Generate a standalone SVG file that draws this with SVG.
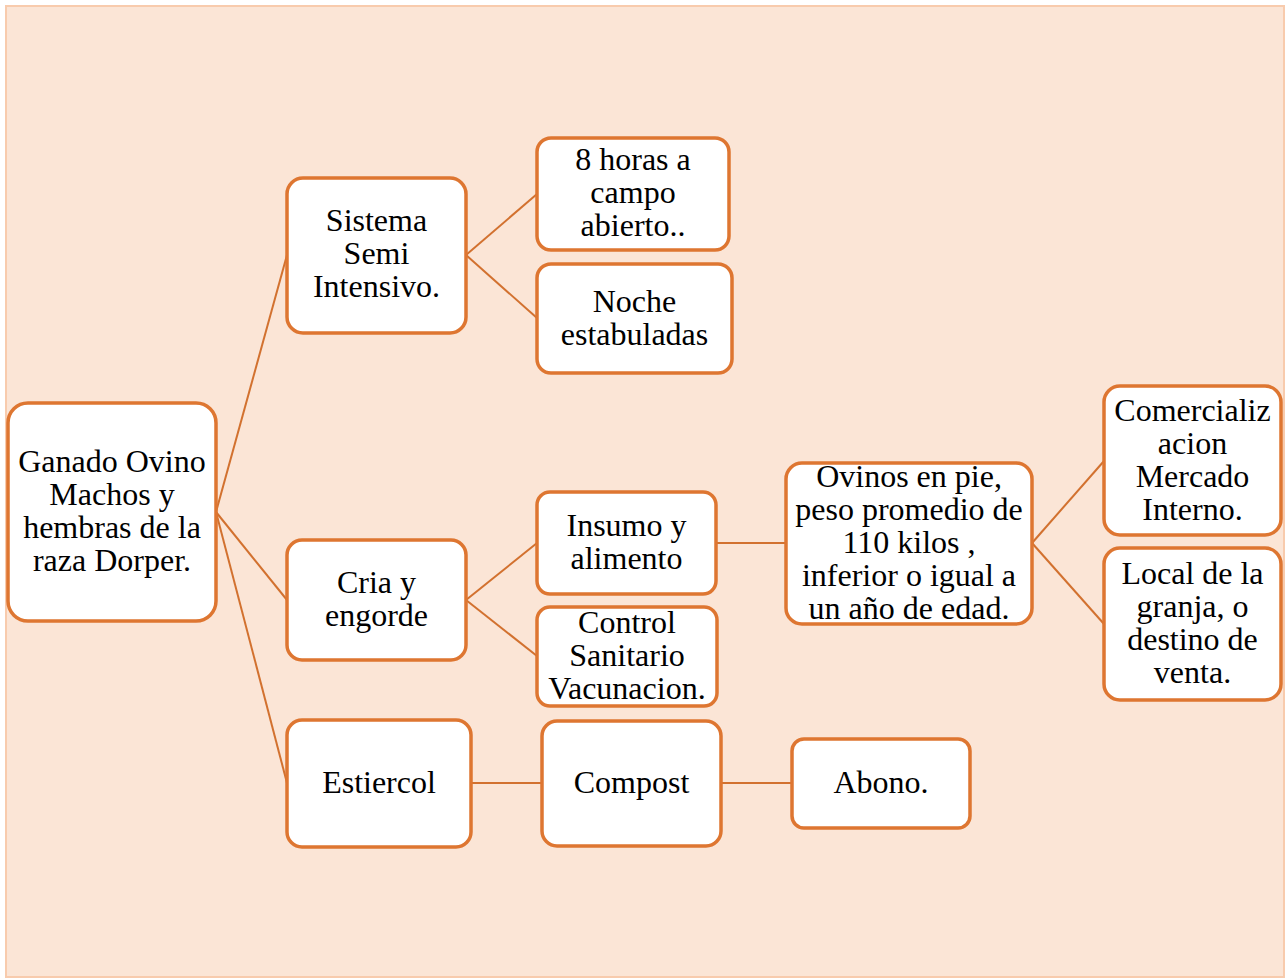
<svg xmlns="http://www.w3.org/2000/svg" width="1287" height="979" viewBox="0 0 1287 979">
<style>
.bg{fill:#FBE5D6;stroke:#F8CBAD;stroke-width:2}
.box{fill:#FFFFFF;stroke:#DE7631;stroke-width:3.5}
.ln{stroke:#D2712F;stroke-width:2;fill:none}
.t{font-family:'Liberation Serif',Tinos,'Times New Roman',Times,serif;font-size:32px;fill:#000;text-anchor:middle}
</style>
<rect class="bg" x="6" y="6" width="1278" height="971"/>
<g id="connectors">
<line class="ln" x1="216" y1="512" x2="287" y2="255"/>
<line class="ln" x1="216" y1="512" x2="287" y2="600"/>
<line class="ln" x1="216" y1="512" x2="287" y2="783"/>
<line class="ln" x1="466" y1="255" x2="537" y2="194"/>
<line class="ln" x1="466" y1="255" x2="537" y2="318"/>
<line class="ln" x1="466" y1="600" x2="537" y2="543"/>
<line class="ln" x1="466" y1="600" x2="537" y2="656"/>
<line class="ln" x1="716" y1="543" x2="786" y2="543"/>
<line class="ln" x1="1032" y1="543" x2="1104" y2="461"/>
<line class="ln" x1="1032" y1="543" x2="1104" y2="624"/>
<line class="ln" x1="471" y1="783" x2="542" y2="783"/>
<line class="ln" x1="721" y1="783" x2="792" y2="783"/>
</g>
<g id="root" class="t" font-family="Liberation Serif">
<rect class="box" x="8" y="403" width="208" height="218" rx="20"/>
<text x="112" y="472">Ganado Ovino</text>
<text x="112" y="505">Machos y</text>
<text x="112" y="538">hembras de la</text>
<text x="112" y="571">raza Dorper.</text>
</g>
<g id="sistema" class="t" font-family="Liberation Serif">
<rect class="box" x="287" y="178" width="179" height="155" rx="16"/>
<text x="376.5" y="231">Sistema</text>
<text x="376.5" y="264">Semi</text>
<text x="376.5" y="297">Intensivo.</text>
</g>
<g id="horas" class="t" font-family="Liberation Serif">
<rect class="box" x="537" y="138" width="192" height="112" rx="14"/>
<text x="633" y="170">8 horas a</text>
<text x="633" y="203">campo</text>
<text x="633" y="236">abierto..</text>
</g>
<g id="noche" class="t" font-family="Liberation Serif">
<rect class="box" x="537" y="264" width="195" height="109" rx="14"/>
<text x="634.5" y="312">Noche</text>
<text x="634.5" y="345">estabuladas</text>
</g>
<g id="cria" class="t" font-family="Liberation Serif">
<rect class="box" x="287" y="540" width="179" height="120" rx="15"/>
<text x="376.5" y="593">Cria y</text>
<text x="376.5" y="626">engorde</text>
</g>
<g id="insumo" class="t" font-family="Liberation Serif">
<rect class="box" x="537" y="492" width="179" height="102" rx="13"/>
<text x="626.5" y="536">Insumo y</text>
<text x="626.5" y="569">alimento</text>
</g>
<g id="control" class="t" font-family="Liberation Serif">
<rect class="box" x="537" y="607" width="180" height="99" rx="13"/>
<text x="627" y="633">Control</text>
<text x="627" y="666">Sanitario</text>
<text x="627" y="699">Vacunacion.</text>
</g>
<g id="ovinos" class="t" font-family="Liberation Serif">
<rect class="box" x="786" y="463" width="246" height="161" rx="16"/>
<text x="909" y="487">Ovinos en pie,</text>
<text x="909" y="520">peso promedio de</text>
<text x="909" y="553">110 kilos ,</text>
<text x="909" y="586">inferior o igual a</text>
<text x="909" y="619">un año de edad.</text>
</g>
<g id="comercializacion" class="t" font-family="Liberation Serif">
<rect class="box" x="1104" y="386" width="177" height="149" rx="16"/>
<text x="1192.5" y="421">Comercializ</text>
<text x="1192.5" y="454">acion</text>
<text x="1192.5" y="487">Mercado</text>
<text x="1192.5" y="520">Interno.</text>
</g>
<g id="local" class="t" font-family="Liberation Serif">
<rect class="box" x="1104" y="548" width="177" height="152" rx="16"/>
<text x="1192.5" y="584">Local de la</text>
<text x="1192.5" y="617">granja, o</text>
<text x="1192.5" y="650">destino de</text>
<text x="1192.5" y="683">venta.</text>
</g>
<g id="estiercol" class="t" font-family="Liberation Serif">
<rect class="box" x="287" y="720" width="184" height="127" rx="15"/>
<text x="379" y="793">Estiercol</text>
</g>
<g id="compost" class="t" font-family="Liberation Serif">
<rect class="box" x="542" y="721" width="179" height="125" rx="15"/>
<text x="631.5" y="793">Compost</text>
</g>
<g id="abono" class="t" font-family="Liberation Serif">
<rect class="box" x="792" y="739" width="178" height="89" rx="12"/>
<text x="881" y="793">Abono.</text>
</g>
</svg>
